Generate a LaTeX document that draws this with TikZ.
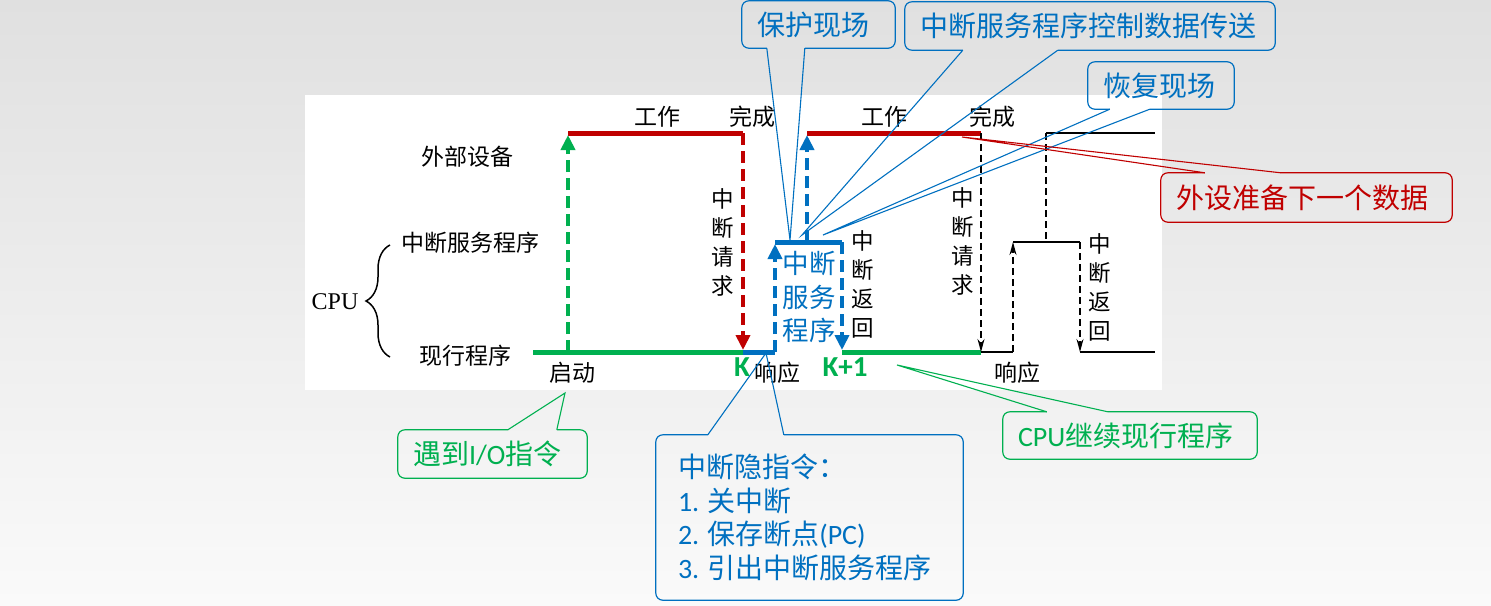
\documentclass[tikz,border=0pt]{standalone}
\usepackage{fontspec}
\setmainfont{Liberation Serif}
\newfontfamily\cjk{Noto Sans CJK SC}
\newfontfamily\calib{Carlito}
\usetikzlibrary{arrows.meta, calc, decorations.pathreplacing}
\definecolor{sigred}  {RGB}{192,   0,   0}
\definecolor{siggreen}{RGB}{  0, 176,  80}
\definecolor{sigblue} {RGB}{  0, 112, 192}
\definecolor{bgtop}   {RGB}{224, 224, 224}
\definecolor{bgbot}   {RGB}{250, 250, 250}
\tikzset{
	lbl/.style={font=\cjk\fontsize{23}{28}\selectfont, inner sep=0pt},
	vlbl/.style={font=\cjk\fontsize{22.5}{29}\selectfont, align=center, inner sep=0pt},
	klbl/.style={font=\calib\bfseries\fontsize{29}{29}\selectfont, text=siggreen, inner sep=0pt},
	track/.style={line width=5pt},
	dasharrow/.style={
		-{Triangle[length=15pt, width=14pt]}, line width=4.5pt,
		dash pattern=on 12pt off 6pt, shorten >=2pt
	},
	thinline/.style={line width=2pt, black},
	thindash/.style={line width=1.5pt, black, dash pattern=on 7pt off 4pt},
	thinarrow/.style={
		-{Stealth[length=13pt, width=7pt]}, line width=1.5pt, black,
		dash pattern=on 7pt off 4pt
	},
	callbox/.style={
		inner xsep=15pt, inner ysep=0pt, align=left,
		font=\cjk\fontsize{28}{33.5}\selectfont
	},
	callline/.style={line width=1.2pt, rounded corners=7pt},
	callptr/.style={line width=1.1pt}
}
\begin{document}
\begin{tikzpicture}[x=1pt, y=-1pt]
	
	%% background
	\useasboundingbox (0,0) rectangle (1491,605);
	\shade[top color=bgtop, bottom color=bgbot] (0,0) rectangle (1491,605);
	\fill[white] (305,95) rectangle (1162,390);
	
	%% points on the time axis
	\coordinate (g0)   at (533,352);
	\coordinate (qd)   at (568,352);
	\coordinate (qdt)  at (568,133);
	\coordinate (k)    at (743,352);
	\coordinate (kt)   at (743,133);
	\coordinate (xy)   at (775,352);
	\coordinate (xym)  at (775,242);
	\coordinate (bhm)  at (807,242);
	\coordinate (bht)  at (807,133);
	\coordinate (k1m)  at (842,242);
	\coordinate (k1)   at (842,352);
	\coordinate (wc)   at (981,133);
	\coordinate (wcb)  at (981,352);
	\coordinate (xy2)  at (1013,352);
	\coordinate (xy2m) at (1013,242);
	\coordinate (nx)   at (1046,133);
	\coordinate (nxm)  at (1046,242);
	\coordinate (nxe)  at (1155,133);
	\coordinate (fh2m) at (1080,242);
	\coordinate (fh2)  at (1080,352);
	\coordinate (fh2e) at (1155,352);
	
	%% row labels
	\node[lbl] (wbsb) at (467,157) {外部设备};
	\node[lbl] (zdfw) at (470,243) {中断服务程序};
	\node[lbl] (xxcx) at (465,356) {现行程序};
	\node[font=\fontsize{24}{24}\selectfont, inner sep=0pt] (cpu) at (335,302) {CPU};
	\coordinate (brt) at (390,245);
	\coordinate (brb) at (390,357);
	\draw[line width=1.5pt, decorate, decoration={brace, amplitude=24pt}] (brb) -- (brt);
	
	%% levels
	\draw[track, sigred]   (qdt) -- (kt);
	\draw[track, sigred]   (bht) -- (wc);
	\draw[track, siggreen] (g0)  -- (k);
	\draw[track, siggreen] (k1)  -- (wcb);
	\draw[track, sigblue]  (k)   -- (xy);
	\draw[track, sigblue]  (xym) -- (k1m);
	
	%% first transfer
	\draw[dasharrow, siggreen] (qd)  -- (qdt);
	\draw[dasharrow, sigred]   (kt)  -- (k);
	\draw[dasharrow, sigblue]  (xy)  -- (xym);
	\draw[dasharrow, sigblue]  (bhm) -- (bht);
	\draw[dasharrow, sigblue]  (k1m) -- (k1);
	
	%% next transfer
	\draw[thinline]  (wcb)  -- (xy2);
	\draw[thinline]  (xy2m) -- (fh2m);
	\draw[thinline]  (nx)   -- (nxe);
	\draw[thinline]  (fh2)  -- (fh2e);
	\draw[thinarrow] (wc)   -- (wcb);
	\draw[thinarrow] (xy2)  -- (xy2m);
	\draw[thindash]  (nx)   -- (nxm);
	\draw[thinarrow] (fh2m) -- (fh2);
	
	%% time labels
	\node[lbl] (gz1)  at (657,117)  {工作};
	\node[lbl] (wc1)  at (752,117)  {完成};
	\node[lbl] (gz2)  at (884,117)  {工作};
	\node[lbl] (wc2)  at (992,117)  {完成};
	\node[lbl] (qdl)  at (572,373)  {启动};
	\node[lbl] (xyl1) at (777,373)  {响应};
	\node[lbl] (xyl2) at (1017,373) {响应};
	\node[klbl] (kl)  at (742,367)  {K};
	\node[klbl] (k1l) at (845,367)  {K+1};
	\node[vlbl] (qqt1) at (723,242)  {中\\断\\请\\求};
	\node[vlbl] (fht1) at (863,284)  {中\\断\\返\\回};
	\node[vlbl] (qqt2) at (963,241)  {中\\断\\请\\求};
	\node[vlbl] (fht2) at (1100,287) {中\\断\\返\\回};
	\node[font=\cjk\fontsize{26.5}{33.5}\selectfont, text=sigblue,
	align=center, inner sep=0pt] (isr) at (809,297) {中断\\服务\\程序};
	
	%% callouts
	% 保护现场
	\node[callbox, text=sigblue, text width=123pt, minimum height=47pt] (bhxc) at (818.5,24.5) {保护现场};
	\coordinate (bhtip) at (790,240);
	\draw[callline, sigblue] ($(bhxc.south west)+(63,0)$) -- (bhxc.south east) -- (bhxc.north east)
	-- (bhxc.north west) -- (bhxc.south west) -- ($(bhxc.south west)+(25,0)$);
	\draw[callptr, sigblue] ($(bhxc.south west)+(25,0)$) -- (bhtip) -- ($(bhxc.south west)+(63,0)$);
	
	% 数据传送
	\node[callbox, text=sigblue, text width=340pt, minimum height=48pt] (kzcs) at (1090,26) {中断服务程序控制数据传送};
	\coordinate (kztip) at (802,235);
	\draw[callline, sigblue] ($(kzcs.south west)+(153,0)$) -- (kzcs.south east) -- (kzcs.north east)
	-- (kzcs.north west) -- (kzcs.south west) -- ($(kzcs.south west)+(58,0)$);
	\draw[callptr, sigblue] ($(kzcs.south west)+(58,0)$) -- (kztip) -- ($(kzcs.south west)+(153,0)$);
	
	% 恢复现场
	\node[callbox, text=sigblue, text width=116pt, minimum height=47pt] (hfxc) at (1161,85.5) {恢复现场};
	\coordinate (hftip) at (823,235);
	\draw[callline, sigblue] ($(hfxc.south west)+(62,0)$) -- (hfxc.south east) -- (hfxc.north east)
	-- (hfxc.north west) -- (hfxc.south west) -- ($(hfxc.south west)+(22,0)$);
	\draw[callptr, sigblue] ($(hfxc.south west)+(22,0)$) -- (hftip) -- ($(hfxc.south west)+(62,0)$);
	
	% 外设准备
	\node[callbox, text=sigred, text width=261pt, minimum height=49pt] (wszb) at (1306.5,197.5) {外设准备下一个数据};
	\coordinate (wstip) at (962,137);
	\draw[callline, sigred] ($(wszb.north west)+(120,0)$) -- (wszb.north east) -- (wszb.south east)
	-- (wszb.south west) -- (wszb.north west) -- ($(wszb.north west)+(44,0)$);
	\draw[callptr, sigred] ($(wszb.north west)+(44,0)$) -- (wstip) -- ($(wszb.north west)+(120,0)$);
	
	% 遇到I/O指令
	\node[callbox, text=siggreen, text width=159pt, minimum height=48pt] (ydio) at (492.5,454) {遇到{\calib I/O}指令};
	\coordinate (ydtip) at (565,393);
	\draw[callline, siggreen] ($(ydio.north west)+(159,0)$) -- (ydio.north east) -- (ydio.south east)
	-- (ydio.south west) -- (ydio.north west) -- ($(ydio.north west)+(110,0)$);
	\draw[callptr, siggreen] ($(ydio.north west)+(110,0)$) -- (ydtip) -- ($(ydio.north west)+(159,0)$);
	
	% 中断隐指令
	\node[callbox, text=sigblue, inner xsep=22pt, text width=263pt, minimum height=165pt] (yzl) at (809.5,517.5)
	{中断隐指令：\\{\calib 1.}\hspace{8pt}关中断\\{\calib 2.}\hspace{8pt}保存断点{\calib (PC)}\\{\calib 3.}\hspace{8pt}引出中断服务程序};
	\coordinate (yztip) at (766,353);
	\draw[callline, sigblue] ($(yzl.north west)+(128,0)$) -- (yzl.north east) -- (yzl.south east)
	-- (yzl.south west) -- (yzl.north west) -- ($(yzl.north west)+(52,0)$);
	\draw[callptr, sigblue] ($(yzl.north west)+(52,0)$) -- (yztip) -- ($(yzl.north west)+(128,0)$);
	
	% CPU继续现行程序
	\node[callbox, text=siggreen, text width=224pt, minimum height=47pt] (cpujx) at (1130,435.5) {{\calib CPU}继续现行程序};
	\coordinate (cjtip) at (897,365);
	\draw[callline, siggreen] ($(cpujx.north west)+(105,0)$) -- (cpujx.north east) -- (cpujx.south east)
	-- (cpujx.south west) -- (cpujx.north west) -- ($(cpujx.north west)+(44,0)$);
	\draw[callptr, siggreen] ($(cpujx.north west)+(44,0)$) -- (cjtip) -- ($(cpujx.north west)+(105,0)$);
	
\end{tikzpicture}
\end{document}
